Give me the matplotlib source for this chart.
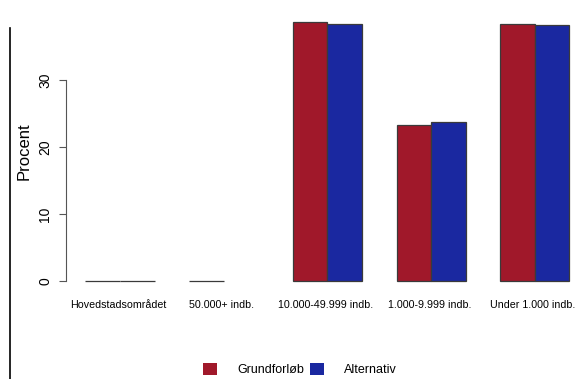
import matplotlib.pyplot as plt
from matplotlib.lines import Line2D
from matplotlib.patches import Patch
import numpy as np

plt.rcParams['font.family'] = ['Liberation Sans', 'DejaVu Sans']

# regions and values (percent), None = no bar
regions = ['Hovedstadsområdet', '50.000+ indb.', '10.000-49.999 indb.',
           '1.000-9.999 indb.', 'Under 1.000 indb.']
grundforloeb = [0, 0, 38.7, 23.3, 38.3]
alternativ = [0, None, 38.4, 23.7, 38.2]

red = '#A0182A'
blue = '#1A28A0'

W, H = 575, 379
fig = plt.figure(figsize=(W / 100, H / 100), dpi=100)

# plot region in pixels (R style barplot, partly cut off on the right)
left, right, top, bottom = 66, 588.8, 11.7, 291.4
ax = fig.add_axes([left / W, 1 - bottom / H, (right - left) / W, (bottom - top) / H])

# R beside=TRUE layout: bar width 1, one space between groups
x_red = np.arange(len(regions)) * 3 + 1.5
x_blue = x_red + 1
edge = '#3a3a3a'
for i in range(len(regions)):
    if grundforloeb[i] is not None:
        ax.bar(x_red[i], grundforloeb[i], width=1, color=red, edgecolor=edge, linewidth=0.9)
    if alternativ[i] is not None:
        ax.bar(x_blue[i], alternativ[i], width=1, color=blue, edgecolor=edge, linewidth=0.9)

ax.set_xlim(0.44, 15.56)
ax.set_ylim(-1.55, 40.2)

for s in ['top', 'right', 'bottom']:
    ax.spines[s].set_visible(False)
ax.spines['left'].set_bounds(0, 30)
ax.spines['left'].set_color('#555555')
ax.set_yticks([0, 10, 20, 30])
ax.tick_params(axis='y', length=5, color='#555555', labelsize=10, pad=5)
for lab in ax.get_yticklabels():
    lab.set_rotation(90)
    lab.set_va('center')

ax.set_xticks((x_red + x_blue) / 2 - 0.05)
ax.set_xticklabels(regions, fontsize=7.7)
ax.tick_params(axis='x', length=0, pad=6)

ax.set_ylabel('Procent', fontsize=12, labelpad=5)

# legend at bottom
handles = [Patch(facecolor=red, edgecolor='none'), Patch(facecolor=blue, edgecolor='none')]
fig.legend(handles, ['Grundforløb', 'Alternativ'], ncol=2, loc='center',
           bbox_to_anchor=(0.522, 1 - 369.5 / H), frameon=False, fontsize=9,
           handlelength=1.1, handleheight=1.1, handletextpad=1.6, columnspacing=0.5)

# thin black frame line on the left
fig.add_artist(Line2D([10 / W, 10 / W], [0, 1 - 28 / H], color='black', linewidth=1.2))

fig.savefig('out.png', dpi=100)
